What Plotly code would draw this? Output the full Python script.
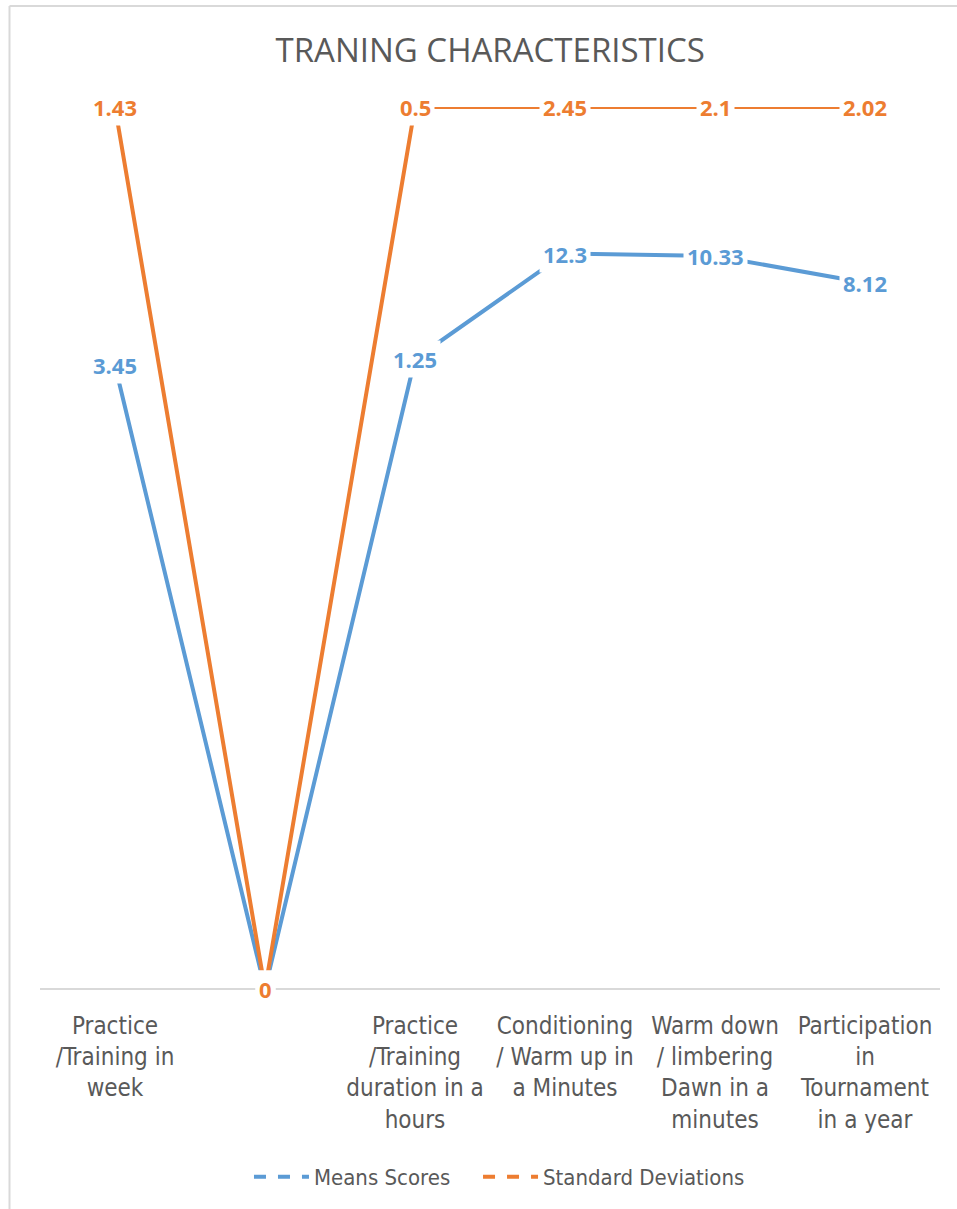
import plotly.graph_objects as go

categories = [
    "Practice<br>/Training in<br>week",
    "",
    "Practice<br>/Training<br>duration in a<br>hours",
    "Conditioning<br>/ Warm up in<br>a Minutes",
    "Warm down<br>/ limbering<br>Dawn in a<br>minutes",
    "Participation<br>in<br>Tournament<br>in a year",
]
means_scores = [3.45, 0, 1.25, 12.3, 10.33, 8.12]
std_devs = [1.43, 0, 0.5, 2.45, 2.1, 2.02]

BLUE = "#5B9BD5"
ORANGE = "#ED7D31"
TEXT = "#595959"
FONT = "Open Sans, sans-serif"
TICKFONT = "DejaVu Sans Condensed, Open Sans, sans-serif"

# 100% stacked line: each series cumulative share of category total
totals = [m + s for m, s in zip(means_scores, std_devs)]
mean_pct = [m / t if t else 0 for m, t in zip(means_scores, totals)]
sd_pct = [(m + s) / t if t else 0 for m, s, t in zip(means_scores, std_devs, totals)]
xs = list(range(len(categories)))

fig = go.Figure()
fig.add_trace(go.Scatter(x=xs, y=mean_pct, mode="lines", line=dict(color=BLUE, width=4),
                         showlegend=False, cliponaxis=False, hoverinfo="skip"))
fig.add_trace(go.Scatter(x=xs, y=sd_pct, mode="lines", line=dict(color=ORANGE, width=4),
                         showlegend=False, cliponaxis=False, hoverinfo="skip"))
fig.add_trace(go.Scatter(x=[None], y=[None], mode="lines", name="Means Scores", legend="legend",
                         line=dict(color=BLUE, width=4, dash="dash")))
fig.add_trace(go.Scatter(x=[None], y=[None], mode="lines", name="Standard Deviations", legend="legend2",
                         line=dict(color=ORANGE, width=4, dash="dash")))

annotations = []
for vals, pcts, col in ((means_scores, mean_pct, BLUE), (std_devs, sd_pct, ORANGE)):
    for x, v, p in zip(xs, vals, pcts):
        annotations.append(dict(x=x, y=p, xref="x", yref="y", text=f"{v:g}", showarrow=False,
                                font=dict(family=FONT, size=22, color=col, weight="bold"),
                                bgcolor="white", borderpad=3, xanchor="center", yanchor="middle"))

legend_style = dict(orientation="h", xanchor="left", y=-0.2118, yanchor="middle", itemwidth=55,
                    font=dict(family=TICKFONT, size=22, color=TEXT), bgcolor="rgba(0,0,0,0)")

fig.update_layout(
    width=957, height=1209,
    margin=dict(l=40, r=17, t=107, b=219),
    paper_bgcolor="white", plot_bgcolor="white",
    title=dict(text="TRANING CHARACTERISTICS", x=0.5122, xanchor="center", y=0.9586, yanchor="middle",
               font=dict(family=FONT, size=33, color=TEXT)),
    font=dict(family=FONT, color=TEXT),
    xaxis=dict(tickmode="array", tickvals=xs, ticktext=categories, range=[-0.5, 5.5],
               showgrid=False, zeroline=False, showline=False, ticks="", tickangle=0,
               ticklabelstandoff=20,
               tickfont=dict(family=TICKFONT, size=24, color=TEXT), fixedrange=True),
    yaxis=dict(range=[0, 1], showgrid=False, zeroline=True, zerolinecolor="#D9D9D9", zerolinewidth=2,
               showticklabels=False, showline=False, fixedrange=True),
    legend=dict(x=0.2322, **legend_style),
    legend2=dict(x=0.4867, **legend_style),
    annotations=annotations,
    shapes=[
        dict(type="line", xref="paper", yref="paper", x0=-0.0339, x1=-0.0339, y0=-0.25, y1=1.1144,
             line=dict(color="#D9D9D9", width=2)),
        dict(type="line", xref="paper", yref="paper", x0=-0.0339, x1=1.05, y0=1.1144, y1=1.1144,
             line=dict(color="#D9D9D9", width=2)),
    ],
)

fig.write_html("out.html")
